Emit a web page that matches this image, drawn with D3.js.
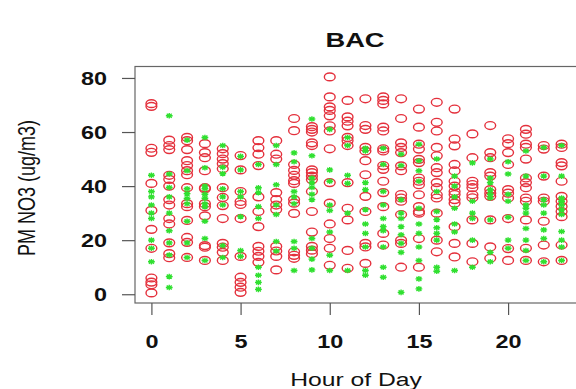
<!DOCTYPE html>
<html>
<head>
<meta charset="utf-8">
<script src="https://cdn.jsdelivr.net/npm/d3@7"></script>
<style>
  body { margin: 0; background: #fff; }
  text { font-family: "Liberation Sans", Arial, sans-serif; fill: #111; }
</style>
</head>
<body>
<div id="chart"></div>
<script>
// hour of day 0..23
const hours = d3.range(0, 24);
const xTicks = [0, 5, 10, 15, 20];
const yTicks = [0, 20, 40, 60, 80];

// red open circles, one list of values per hour
const circleVals = [
  [70.5, 69.5, 54, 52.5, 41, 31, 24, 17, 6, 4.5, 3.5, 0.5],
  [57, 55, 53.5, 44, 42.5, 40, 35, 33, 28, 26, 19, 15, 13.5],
  [58, 56.8, 53.5, 49.4, 47.6, 45.7, 44.2, 39.4, 33.5, 32.4, 27.3, 21, 19.2, 13.6],
  [55.7, 52.4, 50.5, 45.7, 39.4, 39, 33.5, 32.4, 29, 18, 17.4, 12.5],
  [53.8, 52, 50, 48.3, 46.4, 39.4, 35.8, 32.8, 28, 18.8, 17.4, 15.5, 12.5],
  [51.3, 46, 38, 34.3, 33.2, 28, 14, 6.3, 4.4, 2.6, 0.7],
  [56.8, 54.2, 51.8, 47.6, 36, 30.6, 25, 17.7, 15.9, 14, 11.8],
  [56.8, 51.8, 50, 37.6, 35, 33, 31.3, 17.7, 16, 14, 9],
  [65, 60.5, 48, 45.8, 44, 42, 41, 35, 33.7, 29.9, 15.7, 14.4, 13.3],
  [62, 61, 60, 56, 55, 46, 45, 43.7, 42.4, 38, 30.6, 23, 17.7, 16.3, 15],
  [80.4, 73, 69.3, 68, 66, 62.3, 60.4, 53.8, 41.3, 33.7, 26, 20.6, 17, 10.7],
  [71.7, 65.6, 64, 62.3, 58, 56.8, 55, 41.3, 31.8, 27.5, 16.2, 9.6],
  [72.3, 62.4, 61, 54.3, 53, 49.4, 44.2, 36.2, 30.6, 18.8, 17.5, 11.4],
  [73, 71.7, 70.4, 61.8, 60.4, 53.8, 53, 47.6, 46.2, 41.8, 37.6, 32.4, 22.5, 18.2],
  [72.3, 65, 56, 54.3, 52.4, 47.5, 45.7, 36.9, 35.6, 34.4, 29.5, 20, 18.8, 10],
  [68.5, 61.8, 55.5, 53.7, 49.9, 48.7, 43, 41.8, 40.5, 36.8, 32.4, 30.6, 30, 20.6, 10],
  [71, 63.6, 60.4, 54.3, 51.2, 46.8, 45, 41.3, 39.4, 36.8, 35.6, 30, 20, 15.7],
  [68.5, 57.4, 54.9, 48, 45.6, 41.8, 40, 38, 36.9, 35, 33.7, 25, 18.8, 13.8],
  [59.3, 50.5, 41.8, 40.6, 39.4, 36.8, 35.7, 27.5, 18.8, 12],
  [62.4, 52.4, 50.5, 45, 43.7, 38.7, 37.4, 36.2, 27.5, 17.5, 13.3],
  [57.5, 55.7, 52.4, 48, 38.7, 37.4, 35.6, 28, 16.9, 12.5],
  [61, 59.2, 55.5, 54.3, 50, 43, 41.3, 39.4, 35.6, 34.4, 27.5, 17, 12.5],
  [55, 53.7, 43.7, 35.6, 34.4, 27, 18.2, 12],
  [55.5, 54.3, 48.7, 47.5, 41.8, 36.2, 34.4, 32.5, 30.6, 28.7, 18.2, 12.5]
];

// green stars, one list of values per hour
const starVals = [
  [44, 38, 36, 33, 30, 28, 20, 17, 12],
  [66, 44.5, 39.5, 36, 30, 23.5, 19, 14.5, 6.5, 2.5],
  [57, 45.7, 39, 37.2, 35.4, 33.5, 27, 19, 13.6],
  [58, 46.8, 40, 39, 37, 35.5, 33.5, 32.4, 27, 20.6, 12.5],
  [55, 47, 44.6, 39, 36, 33, 18, 13.6],
  [51, 46, 38, 36, 28.7, 16.2, 14],
  [48, 39.4, 37.6, 32.4, 28, 10, 7, 4.4, 1.8],
  [55, 48, 40.5, 33, 29.5, 19.5, 16],
  [52.3, 49, 38, 36, 33.5, 19.5, 17, 8.8],
  [64.8, 51.2, 43, 41.3, 39.5, 37, 35, 20.6, 17, 13, 9],
  [61, 46, 41.8, 33, 31, 23, 14.4, 8.8],
  [58, 55, 44, 41, 30, 8.8],
  [54, 53, 41.3, 38.7, 31.3, 26, 22.5, 17.5, 8.8, 7],
  [54, 48, 38, 33, 28, 25, 23.5, 17.5, 10, 6.3],
  [51.8, 47.6, 35, 30, 28, 25, 22, 18.8, 15.5, 0.7],
  [55.5, 49.4, 45.7, 41.8, 31.8, 26, 22.5, 17.5, 12.5, 5.7, 2],
  [50, 38, 30.6, 27.6, 24.6, 22.5, 20, 10, 8.5],
  [43.7, 40, 36, 31.8, 26, 23, 8.8],
  [48.6, 34.4, 30, 28, 20, 10],
  [50, 43, 41.3, 38.7, 37, 35.6, 27.5, 15.5, 12],
  [49, 44.5, 37, 34.4, 28.5, 20, 17],
  [53, 43.7, 33, 31.8, 30, 24.3, 20, 16.2, 12.5],
  [54.3, 43.7, 35, 33, 30, 23.8, 20.6, 12],
  [55, 43.7, 35.6, 34.4, 33, 31.3, 29.5, 23.2, 20, 17.5, 12.5]
];

const W = 576, H = 389;
const SX = 1.3; // the picture is stretched sideways

const svg = d3.select("#chart").append("svg")
  .attr("width", W).attr("height", H);

const x = d3.scaleLinear().domain([-0.92, 23.92]).range([135, 578]);
const y = d3.scaleLinear().domain([-3.24, 84.24]).range([303, 66.5]);

// points
const circles = hours.flatMap(h => circleVals[h].map(v => ({h: h, v: v})));
const stars = hours.flatMap(h => starVals[h].map(v => ({h: h, v: v})));

svg.append("g").selectAll("ellipse")
  .data(circles).enter().append("ellipse")
  .attr("cx", d => x(d.h))
  .attr("cy", d => y(d.v))
  .attr("rx", 5.4).attr("ry", 3.9)
  .attr("fill", "none")
  .attr("stroke", "#e4303c")
  .attr("stroke-width", 1.4);

const starPath = "M-3.4,0H3.4M0,-2.8V2.8M-2.5,-2L2.5,2M-2.5,2L2.5,-2";
svg.append("g").selectAll("path")
  .data(stars).enter().append("path")
  .attr("transform", d => "translate(" + x(d.h) + "," + y(d.v) + ")")
  .attr("d", starPath)
  .attr("stroke", "#30e030")
  .attr("stroke-width", 1.4)
  .attr("fill", "none");

// box
svg.append("rect")
  .attr("x", 135).attr("y", 66.5)
  .attr("width", 578 - 135).attr("height", 303 - 66.5)
  .attr("fill", "none").attr("stroke", "#666").attr("stroke-width", 1.2);

// x axis
let xAxis = svg.append("g").attr("transform", "translate(0,303)")
  .call(d3.axisBottom(x).tickValues(xTicks).tickSize(12).tickFormat(d3.format("d")));
xAxis.select(".domain").remove();
xAxis.selectAll("line").attr("stroke", "#555").attr("stroke-width", 1.2);
xAxis.selectAll("text")
  .attr("y", null).attr("dy", null)
  .attr("transform", "translate(0,45) scale(" + SX + ",1)")
  .attr("font-size", 18).attr("font-weight", "bold")
  .attr("fill", "#111");

// y axis
let yAxis = svg.append("g").attr("transform", "translate(135,0)")
  .call(d3.axisLeft(y).tickValues(yTicks).tickSize(13).tickFormat(d3.format("d")));
yAxis.select(".domain").remove();
yAxis.selectAll("line").attr("stroke", "#555").attr("stroke-width", 1.2);
yAxis.selectAll("text")
  .attr("x", null).attr("dy", null)
  .attr("transform", "translate(-28,6.5) scale(" + SX + ",1)")
  .attr("text-anchor", "end")
  .attr("font-size", 18).attr("font-weight", "bold")
  .attr("fill", "#111");

// title and axis titles
svg.append("text")
  .attr("transform", "translate(355,47) scale(" + SX + ",1)")
  .attr("text-anchor", "middle")
  .attr("font-size", 21).attr("font-weight", "bold")
  .text("BAC");

svg.append("text")
  .attr("transform", "translate(356,386) scale(" + SX + ",1)")
  .attr("text-anchor", "middle")
  .attr("font-size", 19)
  .text("Hour of Day");

svg.append("text")
  .attr("transform", "translate(35,188) scale(" + SX + ",1) rotate(-90)")
  .attr("text-anchor", "middle")
  .attr("font-size", 18)
  .text("PM NO3 (ug/m3)");
</script>
</body>
</html>
